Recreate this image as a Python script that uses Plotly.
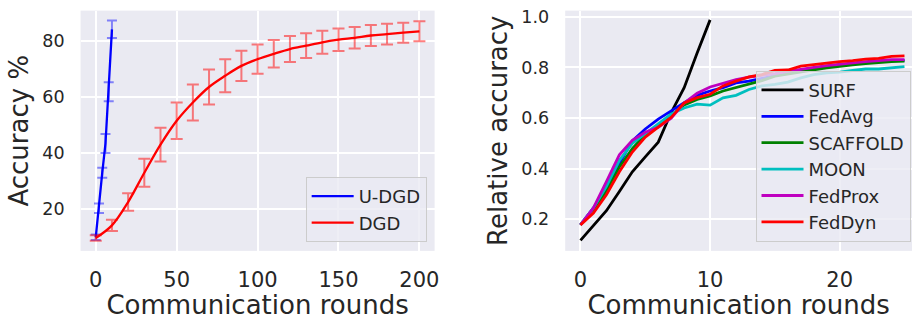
import plotly.graph_objects as go

# ---------------- Left panel data ----------------
udgd_rounds = [0, 2, 4, 6, 8, 10]
udgd_acc = [10.1, 20.4, 33.0, 43.4, 61.8, 84.0]
udgd_err = [1.0, 1.7, 1.8, 3.4, 3.4, 3.1]

dgd_rounds = [0, 10, 20, 30, 40, 50, 60, 70, 80, 90, 100, 110, 120, 130, 140, 150, 160, 170, 180, 190, 200]
dgd_acc = [9.8, 14.3, 22.6, 33.0, 43.0, 51.5, 58.0, 63.5, 67.5, 71.0, 73.4, 75.3, 77.0, 78.2, 79.4, 80.3, 81.0, 81.8, 82.3, 82.8, 83.3]
dgd_err = [1.0, 2.0, 3.1, 5.0, 6.0, 6.5, 6.4, 6.2, 5.9, 5.4, 5.2, 4.9, 4.6, 4.4, 4.1, 4.0, 3.8, 3.7, 3.65, 3.55, 3.55]

# ---------------- Right panel data ----------------
surf_rounds = list(range(0, 11))
surf = [0.117, 0.176, 0.234, 0.31, 0.388, 0.447, 0.505, 0.622, 0.72, 0.857, 0.988]

fl_rounds = list(range(0, 26))
fedavg = [0.178, 0.245, 0.32, 0.42, 0.51, 0.557, 0.596, 0.629, 0.661, 0.69, 0.707, 0.72, 0.739, 0.746,
          0.756, 0.768, 0.779, 0.789, 0.796, 0.803, 0.81, 0.814, 0.819, 0.823, 0.827, 0.828]
scaffold = [0.178, 0.24, 0.31, 0.407, 0.479, 0.535, 0.57, 0.61, 0.652, 0.674, 0.688, 0.707, 0.72, 0.733,
            0.748, 0.766, 0.775, 0.782, 0.791, 0.798, 0.805, 0.81, 0.815, 0.82, 0.823, 0.825]
moon = [0.178, 0.245, 0.33, 0.433, 0.5, 0.54, 0.577, 0.616, 0.64, 0.655, 0.651, 0.68, 0.69, 0.713,
        0.727, 0.733, 0.742, 0.759, 0.772, 0.779, 0.782, 0.788, 0.794, 0.794, 0.798, 0.803]
fedprox = [0.178, 0.245, 0.349, 0.455, 0.512, 0.544, 0.564, 0.6, 0.66, 0.698, 0.723, 0.739, 0.752, 0.762,
           0.768, 0.776, 0.785, 0.794, 0.8, 0.807, 0.814, 0.818, 0.823, 0.826, 0.831, 0.831]
feddyn = [0.178, 0.225, 0.297, 0.388, 0.466, 0.525, 0.564, 0.603, 0.66, 0.681, 0.694, 0.727, 0.746, 0.763,
          0.772, 0.788, 0.79, 0.805, 0.811, 0.818, 0.823, 0.827, 0.833, 0.836, 0.844, 0.846]

left_xticks = [0, 50, 100, 150, 200]
left_yticks = [20, 40, 60, 80]
right_xticks = [0, 10, 20]
right_yticks = [0.2, 0.4, 0.6, 0.8, 1.0]

TXT = "#262626"
FONT = "DejaVu Sans"
BG = "#EAEAF2"

fig = go.Figure()

fig.add_trace(go.Scatter(
    x=udgd_rounds, y=udgd_acc, mode="lines", name="U-DGD",
    line=dict(color="#0000ff", width=2.3),
    error_y=dict(type="data", array=udgd_err, color="rgba(0,0,255,0.45)", thickness=2, width=5),
    xaxis="x", yaxis="y", legend="legend",
))
fig.add_trace(go.Scatter(
    x=dgd_rounds, y=dgd_acc, mode="lines", name="DGD",
    line=dict(color="#ff0000", width=2.3, shape="spline", smoothing=1.0),
    error_y=dict(type="data", array=dgd_err, color="rgba(255,0,0,0.5)", thickness=2, width=6),
    xaxis="x", yaxis="y", legend="legend",
))

right_series = [
    ("SURF", surf_rounds, surf, "#000000"),
    ("FedAvg", fl_rounds, fedavg, "#0000ff"),
    ("SCAFFOLD", fl_rounds, scaffold, "#008000"),
    ("MOON", fl_rounds, moon, "#00bfbf"),
    ("FedProx", fl_rounds, fedprox, "#bf00bf"),
    ("FedDyn", fl_rounds, feddyn, "#ff0000"),
]
for name, xs, ys, col in right_series:
    fig.add_trace(go.Scatter(
        x=xs, y=ys, mode="lines", name=name,
        line=dict(color=col, width=2.8),
        xaxis="x2", yaxis="y2", legend="legend2",
    ))

axis_common = dict(
    showgrid=True, gridcolor="white", gridwidth=1.6, zeroline=False,
    showline=False, ticks="", color=TXT,
)

fig.update_layout(
    width=917, height=320,
    margin=dict(l=0, r=0, t=0, b=0),
    paper_bgcolor="white", plot_bgcolor=BG,
    font=dict(family=FONT, color=TXT, size=17),
    xaxis=dict(domain=[81 / 917, 437 / 917], range=[-9.4, 209.4], tickvals=left_xticks,
               tickfont=dict(size=21), ticklabelstandoff=14,
               title=dict(text="Communication rounds", font=dict(size=26), standoff=6),
               anchor="y", **axis_common),
    yaxis=dict(domain=[1 - 250 / 320, 1 - 6.7 / 320], range=[5.24, 90.65], tickvals=left_yticks,
               tickfont=dict(size=17.5), ticklabelstandoff=15,
               title=dict(text="Accuracy %", font=dict(size=26), standoff=6),
               anchor="x", **axis_common),
    xaxis2=dict(domain=[568.3 / 917, 1.0], range=[-1.18, 25.58], tickvals=right_xticks,
                tickfont=dict(size=21), ticklabelstandoff=14,
                title=dict(text="Communication rounds", font=dict(size=26), standoff=6),
                anchor="y2", **axis_common),
    yaxis2=dict(domain=[1 - 250 / 320, 1 - 6.7 / 320], range=[0.0754, 1.0246], tickvals=right_yticks,
                tickformat=".1f", tickfont=dict(size=17.5), ticklabelstandoff=15,
                title=dict(text="Relative accuracy", font=dict(size=26), standoff=6),
                anchor="x2", **axis_common),
    legend=dict(x=429 / 917, y=1 - 241 / 320, xanchor="right", yanchor="bottom",
                bgcolor="rgba(234,234,242,0.8)", bordercolor="#cccccc", borderwidth=1,
                itemwidth=42,
                font=dict(size=18, color=TXT, family=FONT)),
    legend2=dict(x=915.5 / 917, y=1 - 240.7 / 320, xanchor="right", yanchor="bottom",
                 bgcolor="rgba(234,234,242,0.8)", bordercolor="#cccccc", borderwidth=1,
                 itemwidth=42,
                 font=dict(size=18, color=TXT, family=FONT)),
    showlegend=True,
)

fig.write_html("out.html", config={"displayModeBar": False},
               post_script="document.body.style.margin='0';document.body.style.overflow='hidden';")
